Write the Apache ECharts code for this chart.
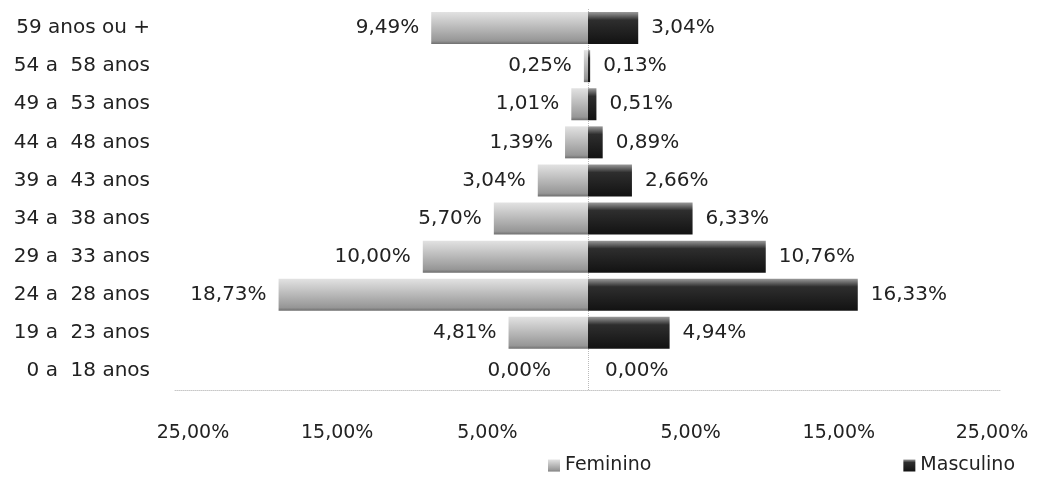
<!DOCTYPE html>
<html>
<head>
<meta charset="utf-8">
<script src="https://cdn.jsdelivr.net/npm/echarts@6/dist/echarts.min.js"></script>
<style>
html,body{margin:0;padding:0;background:#fff;}
#chart{width:1039px;height:485px;}
</style>
</head>
<body>
<div id="chart"></div>
<script>
var categories = ['59 anos ou +','54 a  58 anos','49 a  53 anos','44 a  48 anos','39 a  43 anos','34 a  38 anos','29 a  33 anos','24 a  28 anos','19 a  23 anos','0 a  18 anos'];
var feminino = [9.49, 0.25, 1.01, 1.39, 3.04, 5.70, 10.00, 18.73, 4.81, 0.00];
var masculino = [3.04, 0.13, 0.51, 0.89, 2.66, 6.33, 10.76, 16.33, 4.94, 0.00];
var shownTicks = [-25, -15, -5, 5, 15, 25];
var tickShift = {'-25': 18, '-15': -3, '-5': -18, '5': 20, '15': 3, '25': -9};

var FONT = 'DejaVu Sans';
var FS = 20;
function pct(v){ return Math.abs(v).toFixed(2).replace('.', ',') + '%'; }

var chart = echarts.init(document.getElementById('chart'), null, {renderer:'canvas'});
var rich = {};
shownTicks.forEach(function(t, i){
  var s = tickShift[String(t)];
  rich['t' + i] = {
    fontFamily: FONT, fontSize: 19, color: '#222',
    padding: s >= 0 ? [0, 0, 0, 2 * s] : [0, -2 * s, 0, 0]
  };
});

function items(arr, sign, zeroDist){
  return arr.map(function(v){
    var it = {value: sign * v};
    if (v === 0) it.label = {distance: zeroDist};
    return it;
  });
}

chart.setOption({
  backgroundColor: '#fff',
  animation: false,
  textStyle: {fontFamily: FONT},
  grid: {left: 175, right: 38, top: 9, bottom: 95, containLabel: false},
  legend: {
    left: 543, top: 451, itemGap: 252, itemWidth: 12, itemHeight: 12,
    icon: 'rect',
    textStyle: {fontFamily: FONT, fontSize: 19, color: '#222'},
    data: ['Feminino', 'Masculino']
  },
  xAxis: {
    type: 'value', min: -25, max: 25, interval: 5,
    axisLine: {show: true, lineStyle: {color: '#c8c8c8', type: 'dotted', width: 1}},
    axisTick: {show: false},
    splitLine: {show: false},
    axisLabel: {
      margin: 34,
      formatter: function(v){
        var i = shownTicks.indexOf(Math.round(v));
        if (i < 0) return '';
        return '{t' + i + '|' + pct(v) + '}';
      },
      rich: rich
    }
  },
  yAxis: {
    type: 'category', data: categories, inverse: true,
    axisLine: {show: false}, axisTick: {show: false},
    axisLabel: {fontFamily: FONT, fontSize: FS, color: '#222', margin: 25}
  },
  series: [
    {
      name: 'Feminino', type: 'bar', stack: 'p', barWidth: 32, z: 3,
      data: items(feminino, -1, 37),
      itemStyle: {
        color: new echarts.graphic.LinearGradient(0, 0, 0, 1, [
          {offset: 0, color: '#e2e2e2'},
          {offset: 0.45, color: '#bcbcbc'},
          {offset: 0.9, color: '#969696'},
          {offset: 1, color: '#6e6e6e'}
        ])
      },
      label: {
        show: true, position: 'left', distance: 12,
        fontFamily: FONT, fontSize: FS, color: '#222',
        formatter: function(p){ return pct(p.value); }
      }
    },
    {
      name: 'Masculino', type: 'bar', stack: 'p', barWidth: 32, z: 3,
      data: items(masculino, 1, 17),
      itemStyle: {
        color: new echarts.graphic.LinearGradient(0, 0, 0, 1, [
          {offset: 0, color: '#9a9a9a'},
          {offset: 0.25, color: '#2e2e2e'},
          {offset: 1, color: '#121212'}
        ])
      },
      label: {
        show: true, position: 'right', distance: 13,
        fontFamily: FONT, fontSize: FS, color: '#222',
        formatter: function(p){ return pct(p.value); }
      },
      markLine: {
        silent: true, symbol: 'none', label: {show: false}, z: 1,
        lineStyle: {color: '#bbbbbb', type: 'dotted', width: 1},
        data: [{xAxis: 0}]
      }
    }
  ]
});
</script>
</body>
</html>
